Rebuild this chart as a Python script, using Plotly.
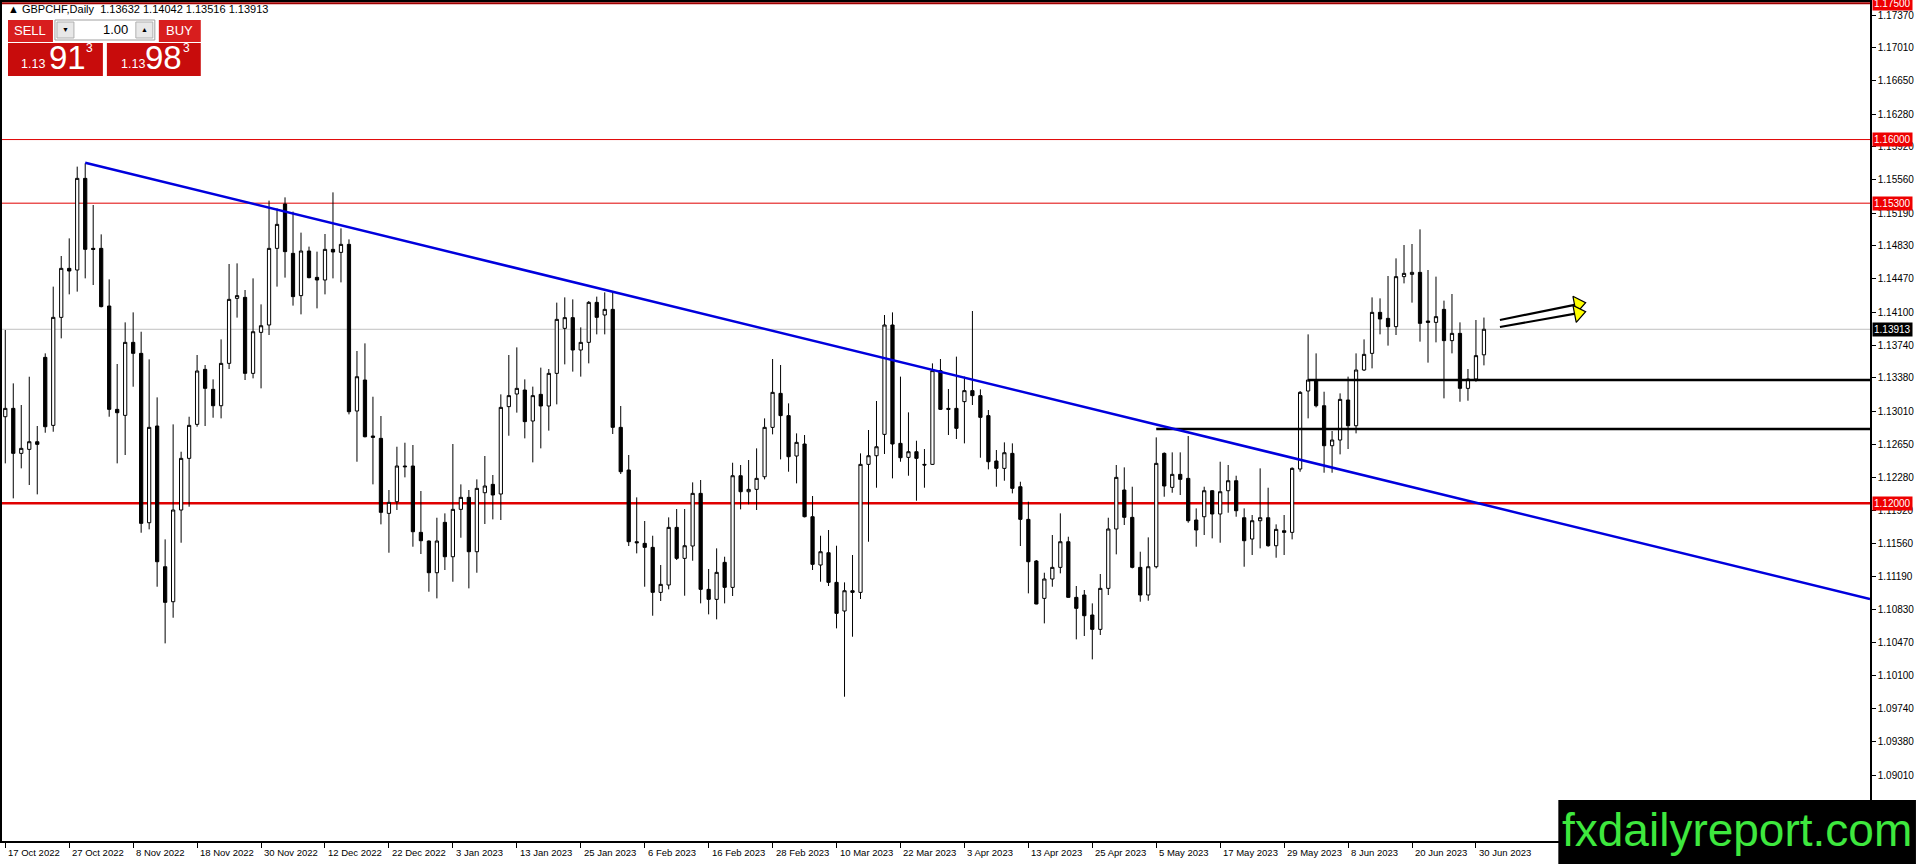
import plotly.graph_objects as go

# ---------------- data ----------------
symbol_header = "GBPCHF,Daily  1.13632 1.14042 1.13516 1.13913"

opens = [
    1.12951, 1.13043, 1.12548, 1.12592, 1.12676, 1.13604, 1.12856, 1.14044, 1.14583, 1.14565,
    1.15573, 1.14803, 1.14803, 1.14169, 1.13032, 1.12966, 1.13769, 1.13648, 1.11785, 1.12849,
    1.11301, 1.10916, 1.11925, 1.12493, 1.12867, 1.13472, 1.13252, 1.13072, 1.13538, 1.14253,
    1.14264, 1.13428, 1.13879, 1.13960, 1.14803, 1.15291, 1.14748, 1.14283, 1.14774, 1.14484,
    1.14455, 1.14792, 1.14759, 1.14847, 1.13014, 1.13355, 1.12739, 1.12713, 1.11888, 1.12016,
    1.12409, 1.12409, 1.11679, 1.11584, 1.11235, 1.11789, 1.11411, 1.11932, 1.12064, 1.11466,
    1.12115, 1.12207, 1.12101, 1.13062, 1.13201, 1.13245, 1.12904, 1.13197, 1.13069, 1.13428,
    1.13923, 1.14041, 1.13685, 1.13769, 1.14209, 1.14070, 1.14132, 1.12834, 1.12365, 1.11576,
    1.11558, 1.11514, 1.11019, 1.11100, 1.11734, 1.11393, 1.11529, 1.12108, 1.11052, 1.10942,
    1.11349, 1.11074, 1.12302, 1.12126, 1.12152, 1.12291, 1.12834, 1.13208, 1.12963, 1.12519,
    1.12651, 1.11851, 1.11320, 1.11455, 1.11129, 1.10814, 1.11037, 1.11019, 1.12427, 1.12522,
    1.12757, 1.13960, 1.12658, 1.12504, 1.12566, 1.12427, 1.12427, 1.13458, 1.13043, 1.13043,
    1.13117, 1.13238, 1.13183, 1.12963, 1.12464, 1.12383, 1.12548, 1.12181, 1.11822, 1.11364,
    1.10953, 1.11166, 1.11294, 1.11576, 1.10964, 1.10990, 1.10770, 1.10612, 1.11063, 1.11716,
    1.12145, 1.11844, 1.11294, 1.10990, 1.11301, 1.12548, 1.12174, 1.12317, 1.12273, 1.11815,
    1.11851, 1.12137, 1.11881, 1.12137, 1.12247, 1.11840, 1.11606, 1.11807, 1.11840, 1.11532,
    1.11697, 1.11679, 1.12376, 1.13234, 1.13355, 1.13072, 1.12632, 1.12695, 1.13135, 1.12852,
    1.13465, 1.13648, 1.14099, 1.14033, 1.13942, 1.14492, 1.14517, 1.14539, 1.14004, 1.13989,
    1.14132, 1.13788, 1.13868, 1.13263, 1.13366, 1.13632,
]

highs = [
    1.13905, 1.13318, 1.13080, 1.13391, 1.12849, 1.13648, 1.14382, 1.14719, 1.14913, 1.15702,
    1.15738, 1.15280, 1.14957, 1.14462, 1.13531, 1.13989, 1.14099, 1.13886, 1.13582, 1.13164,
    1.11602, 1.12867, 1.12566, 1.12951, 1.13630, 1.13520, 1.13362, 1.13802, 1.14631, 1.14638,
    1.14345, 1.14473, 1.14187, 1.15328, 1.15243, 1.15364, 1.15207, 1.14976, 1.14822, 1.14767,
    1.14961, 1.15419, 1.15023, 1.14902, 1.13674, 1.13758, 1.13171, 1.12959, 1.12145, 1.12621,
    1.12665, 1.12640, 1.12134, 1.11590, 1.11840, 1.11888, 1.12651, 1.12207, 1.12145, 1.12262,
    1.12519, 1.12310, 1.13197, 1.13630, 1.13714, 1.13362, 1.13282, 1.13491, 1.13476, 1.14206,
    1.14264, 1.14242, 1.13934, 1.14224, 1.14272, 1.14319, 1.14327, 1.13069, 1.12530, 1.12064,
    1.11804, 1.11642, 1.11320, 1.11844, 1.11936, 1.11936, 1.12229, 1.12255, 1.11276, 1.11503,
    1.11411, 1.12445, 1.12420, 1.12475, 1.12603, 1.12933, 1.13586, 1.13520, 1.13098, 1.12768,
    1.12750, 1.12079, 1.11642, 1.11705, 1.11532, 1.11129, 1.11430, 1.12548, 1.12805, 1.13124,
    1.14070, 1.14099, 1.13392, 1.12999, 1.12687, 1.12596, 1.13538, 1.13586, 1.13256, 1.13612,
    1.13392, 1.14114, 1.13252, 1.13025, 1.12585, 1.12669, 1.12658, 1.12236, 1.12016, 1.11375,
    1.11235, 1.11650, 1.11888, 1.11631, 1.11089, 1.11045, 1.10898, 1.11221, 1.11840, 1.12420,
    1.12394, 1.12181, 1.11466, 1.11624, 1.12724, 1.12559, 1.12559, 1.12559, 1.12739, 1.11943,
    1.12181, 1.12145, 1.12456, 1.12420, 1.12302, 1.11943, 1.11870, 1.12383, 1.12170, 1.11767,
    1.11870, 1.12394, 1.13234, 1.13857, 1.13648, 1.13226, 1.12794, 1.13208, 1.13392, 1.13648,
    1.13802, 1.14264, 1.14253, 1.14499, 1.14693, 1.14840, 1.14851, 1.15012, 1.14565, 1.14492,
    1.14228, 1.14301, 1.13989, 1.13476, 1.14015, 1.14042,
]

lows = [
    1.12438, 1.12053, 1.12383, 1.12200, 1.12097, 1.12775, 1.12786, 1.13813, 1.14297, 1.14327,
    1.14473, 1.14400, 1.14154, 1.12951, 1.12438, 1.12530, 1.13281, 1.11675, 1.11712, 1.11081,
    1.10458, 1.10740, 1.11565, 1.11961, 1.12841, 1.12849, 1.12940, 1.12933, 1.13476, 1.14041,
    1.13355, 1.13373, 1.13263, 1.13850, 1.14382, 1.14481, 1.14173, 1.14077, 1.14473, 1.14143,
    1.14297, 1.14473, 1.14429, 1.12977, 1.12456, 1.12724, 1.12207, 1.11767, 1.11455, 1.11925,
    1.12284, 1.11521, 1.11441, 1.11026, 1.10953, 1.11265, 1.11136, 1.11620, 1.11063, 1.11235,
    1.11771, 1.11822, 1.11815, 1.12742, 1.12996, 1.12713, 1.12449, 1.12603, 1.12798, 1.13087,
    1.13527, 1.13447, 1.13392, 1.13538, 1.13857, 1.13857, 1.12761, 1.12321, 1.11529, 1.11448,
    1.11081, 1.10762, 1.10924, 1.11052, 1.11375, 1.10982, 1.11367, 1.10898, 1.10777, 1.10722,
    1.10898, 1.10979, 1.11932, 1.11987, 1.11925, 1.12262, 1.12757, 1.12482, 1.12346, 1.12218,
    1.11844, 1.11265, 1.11136, 1.11089, 1.10623, 1.09871, 1.10531, 1.10946, 1.11576, 1.12170,
    1.12541, 1.12273, 1.12456, 1.12302, 1.12027, 1.12170, 1.12420, 1.13025, 1.12750, 1.12706,
    1.12658, 1.13080, 1.12500, 1.12372, 1.12181, 1.12247, 1.12108, 1.11529, 1.11008, 1.10888,
    1.10678, 1.11081, 1.11228, 1.10960, 1.10502, 1.10539, 1.10282, 1.10550, 1.10990, 1.11437,
    1.11760, 1.11283, 1.10916, 1.10927, 1.11283, 1.12071, 1.12115, 1.12090, 1.11785, 1.11521,
    1.11650, 1.11613, 1.11565, 1.11895, 1.11851, 1.11301, 1.11430, 1.11503, 1.11521, 1.11400,
    1.11430, 1.11602, 1.12346, 1.12933, 1.13054, 1.12335, 1.12335, 1.12537, 1.12596, 1.12768,
    1.13454, 1.13483, 1.13857, 1.13733, 1.13850, 1.14418, 1.14206, 1.13777, 1.13546, 1.13769,
    1.13153, 1.13648, 1.13116, 1.13127, 1.13336, 1.13516,
]

closes = [
    1.13043, 1.12548, 1.12603, 1.12676, 1.12647, 1.12841, 1.14044, 1.14583, 1.14554, 1.15573,
    1.14792, 1.14792, 1.14162, 1.13032, 1.12995, 1.13769, 1.13648, 1.11778, 1.12834, 1.11356,
    1.10909, 1.11925, 1.12493, 1.12856, 1.13454, 1.13263, 1.13072, 1.13538, 1.14242, 1.14283,
    1.13428, 1.13886, 1.13952, 1.14803, 1.15067, 1.14767, 1.14272, 1.14774, 1.14481, 1.14455,
    1.14792, 1.14763, 1.14847, 1.13006, 1.13391, 1.12731, 1.12724, 1.11899, 1.12009, 1.12409,
    1.12401, 1.11686, 1.11587, 1.11235, 1.11584, 1.11411, 1.11932, 1.12064, 1.11466, 1.12163,
    1.12189, 1.12090, 1.13054, 1.13183, 1.13263, 1.12897, 1.13183, 1.13069, 1.13428, 1.14022,
    1.14041, 1.13685, 1.13769, 1.14209, 1.14044, 1.14132, 1.12834, 1.12346, 1.11576, 1.11565,
    1.11514, 1.11019, 1.11107, 1.11734, 1.11393, 1.11532, 1.12108, 1.11052, 1.10942, 1.11239,
    1.11074, 1.12302, 1.12126, 1.12152, 1.12273, 1.12834, 1.13219, 1.12963, 1.12511, 1.12669,
    1.11851, 1.11327, 1.11466, 1.11129, 1.10788, 1.11037, 1.11019, 1.12427, 1.12522, 1.12621,
    1.13960, 1.12651, 1.12500, 1.12566, 1.12493, 1.12420, 1.13458, 1.13032, 1.13032, 1.12823,
    1.13238, 1.13183, 1.12944, 1.12456, 1.12383, 1.12555, 1.12163, 1.11822, 1.11356, 1.10891,
    1.11166, 1.11294, 1.11576, 1.10964, 1.10843, 1.10762, 1.10612, 1.11063, 1.11716, 1.12284,
    1.11844, 1.11294, 1.10990, 1.11301, 1.12438, 1.12189, 1.12317, 1.12262, 1.11807, 1.11705,
    1.12137, 1.11881, 1.12126, 1.12247, 1.11917, 1.11587, 1.11807, 1.11840, 1.11532, 1.11712,
    1.11679, 1.12383, 1.13219, 1.13355, 1.13072, 1.12632, 1.12695, 1.13142, 1.12852, 1.13465,
    1.13637, 1.14099, 1.14026, 1.13942, 1.14492, 1.14528, 1.14539, 1.13978, 1.13989, 1.14052,
    1.13788, 1.13868, 1.13263, 1.13366, 1.13623, 1.13913,
]

bar_index = list(range(len(opens)))

# date labels, one every 8 trading days starting at bar 0
date_labels = ["17 Oct 2022", "27 Oct 2022", "8 Nov 2022", "18 Nov 2022", "30 Nov 2022",
               "12 Dec 2022", "22 Dec 2022", "3 Jan 2023", "13 Jan 2023", "25 Jan 2023",
               "6 Feb 2023", "16 Feb 2023", "28 Feb 2023", "10 Mar 2023", "22 Mar 2023",
               "3 Apr 2023", "13 Apr 2023", "25 Apr 2023", "5 May 2023", "17 May 2023",
               "29 May 2023", "8 Jun 2023", "20 Jun 2023", "30 Jun 2023"]
date_label_bars = [8 * k for k in range(len(date_labels))]

price_ticks = [1.17370, 1.17010, 1.16650, 1.16280, 1.15920, 1.15560, 1.15190, 1.14830,
               1.14470, 1.14100, 1.13740, 1.13380, 1.13010, 1.12650, 1.12280, 1.11920,
               1.11560, 1.11190, 1.10830, 1.10470, 1.10100, 1.09740, 1.09380, 1.09010]

red_levels = [1.17500, 1.16000, 1.15300, 1.12000]
bid_price = 1.13913
support_levels = [1.13355, 1.12816]
support_start_bars = [163.0, 144.0]
trend_bars = [10.0, 233.3]
trend_prices = [1.15744, 1.10946]
arrow_tails = [(187.0, 1.14015), (187.0, 1.13938)]
arrow_heads = [(196.8, 1.14190), (196.8, 1.14090)]

sell_big, buy_big = "91", "98"

# ---------------- layout geometry ----------------
W, H = 1916, 864
PL, PR, PT, PB = 0, 1870, 2, 841
X_RANGE = [-0.41, 233.3]
Y_RANGE = [1.08284, 1.17513]


def px(x):
    return (x - PL) / (PR - PL)


def py(y):
    return (PB - y) / (PB - PT)


FONT = "Liberation Sans, Arial, sans-serif"
NARROW = "Liberation Sans Narrow, Arial Narrow, Liberation Sans, sans-serif"

fig = go.Figure()
fig.add_trace(go.Candlestick(
    x=bar_index, open=opens, high=highs, low=lows, close=closes,
    increasing=dict(line=dict(color="black", width=1), fillcolor="white"),
    decreasing=dict(line=dict(color="black", width=1), fillcolor="black"),
    whiskerwidth=0, hoverinfo="skip", showlegend=False,
))

# arrows (shafts + heads)
for (tx, ty), (hx, hy) in zip(arrow_tails, arrow_heads):
    fig.add_trace(go.Scatter(x=[tx, hx], y=[ty, hy], mode="lines",
                             line=dict(color="black", width=2.2),
                             hoverinfo="skip", showlegend=False))
fig.add_trace(go.Scatter(
    x=[h[0] for h in arrow_heads], y=[h[1] for h in arrow_heads], mode="markers",
    marker=dict(symbol="triangle-right", size=15, color="#ffff00", angle=-11,
                line=dict(color="black", width=1.2)),
    hoverinfo="skip", showlegend=False))

shapes = []
# red horizontal levels
for lv in red_levels:
    if lv == 1.17500:
        c, w = "#a00000", 2
    elif lv == 1.12000:
        c, w = "#e00000", 2.5
    else:
        c, w = "#e00000", 1
    shapes.append(dict(type="line", xref="paper", x0=0, x1=1, yref="y", y0=lv, y1=lv,
                       line=dict(color=c, width=w), layer="below"))
# bid line
shapes.append(dict(type="line", xref="paper", x0=0, x1=1, yref="y", y0=bid_price, y1=bid_price,
                   line=dict(color="#c0c0c0", width=1), layer="below"))
# support lines
for lv, sb in zip(support_levels, support_start_bars):
    shapes.append(dict(type="line", xref="x", x0=sb, x1=X_RANGE[1], yref="y", y0=lv, y1=lv,
                       line=dict(color="black", width=2.5), layer="above"))
# trend line
shapes.append(dict(type="line", xref="x", x0=trend_bars[0], x1=trend_bars[1], yref="y",
                   y0=trend_prices[0], y1=trend_prices[1],
                   line=dict(color="#0000dd", width=2.5), layer="above"))


def rect(x0, y0, x1, y1, fill, line=None):
    shapes.append(dict(type="rect", xref="paper", yref="paper",
                       x0=px(x0), x1=px(x1), y0=py(y1), y1=py(y0),
                       fillcolor=fill, line=line or dict(width=0), layer="above"))


# trade panel
rect(6, 20, 51, 42, "#d81e1e")
rect(157, 20, 199, 42, "#d81e1e")
rect(6, 43, 101, 76, "#c80c0c")
rect(105, 43, 199, 76, "#c80c0c")
rect(53, 20, 153, 40, "white", dict(color="#a0a0a0", width=1))
rect(55, 22, 72, 38, "#e8e8e8", dict(color="#b0b0b0", width=1))
rect(134, 22, 151, 38, "#e8e8e8", dict(color="#b0b0b0", width=1))
# watermark box
rect(1558, 800, 1916, 864, "black")

annotations = []


def text(x, y, s, size, color="black", xanchor="left", family=FONT, bg=None, yanchor="middle"):
    d = dict(xref="paper", yref="paper", x=px(x), y=py(y), text=s, showarrow=False,
             xanchor=xanchor, yanchor=yanchor, font=dict(family=family, size=size, color=color))
    if bg:
        d["bgcolor"] = bg
    annotations.append(d)


text(4, 9, "\u25b2 " + symbol_header, 11)
text(28.5, 31, "SELL", 13, "white", "center")
text(178, 31, "BUY", 13, "white", "center")
text(128, 30, "1.00", 13, "black", "right")
text(63.5, 30, "\u25bc", 7, "black", "center")
text(142.5, 30, "\u25b2", 7, "black", "center")
text(31, 64, "1.13", 12.5, "white", "center")
text(66, 58, sell_big, 33, "white", "center")
text(88, 48, "3", 12, "white", "center")
text(131, 64, "1.13", 12.5, "white", "center")
text(162, 58, buy_big, 33, "white", "center")
text(185, 48, "3", 12, "white", "center")

# watermark text
text(1737, 830, "fxdailyreport.com", 46, "#3ee83e", "center", family=NARROW)

# date labels (left aligned at their ticks)
for b, lab in zip(date_label_bars, date_labels):
    annotations.append(dict(xref="x", yref="paper", x=b, y=py(852), text=lab, showarrow=False,
                            xanchor="left", yanchor="middle", xshift=1,
                            font=dict(family=FONT, size=9.5, color="black")))

# price boxes on the right axis
for lv in red_levels:
    annotations.append(dict(xref="paper", yref="y", x=1, y=lv, text=f"{lv:.5f}", showarrow=False,
                            xanchor="left", yanchor="middle", xshift=2, bgcolor="#ee0000",
                            borderpad=1, font=dict(family=FONT, size=10, color="white")))
annotations.append(dict(xref="paper", yref="y", x=1, y=bid_price, text=f"{bid_price:.5f}",
                        showarrow=False, xanchor="left", yanchor="middle", xshift=2,
                        bgcolor="black", borderpad=1, font=dict(family=FONT, size=10, color="white")))

fig.update_layout(
    width=W, height=H,
    margin=dict(l=PL, r=W - PR, t=PT, b=H - PB, pad=0),
    paper_bgcolor="white", plot_bgcolor="white",
    showlegend=False, boxgap=0.42,
    shapes=shapes, annotations=annotations,
    xaxis=dict(range=X_RANGE, rangeslider=dict(visible=False), showgrid=False, zeroline=False,
               tickvals=date_label_bars, ticks="outside", ticklen=5, tickcolor="black",
               showticklabels=False, showline=True, linecolor="black", linewidth=1.5, mirror=True,
               fixedrange=True),
    yaxis=dict(range=Y_RANGE, side="right", showgrid=False, zeroline=False,
               tickvals=price_ticks, ticktext=[f"{v:.5f}" for v in price_ticks],
               ticks="outside", ticklen=4, tickcolor="black",
               tickfont=dict(family=FONT, size=10, color="black"),
               showline=True, linecolor="black", linewidth=1.5, mirror=True, fixedrange=True),
)

fig.write_html(
    "out.html",
    config={"displayModeBar": False},
    post_script="document.body.style.margin='0';document.body.style.padding='0';"
                "document.body.style.overflow='hidden';",
)
